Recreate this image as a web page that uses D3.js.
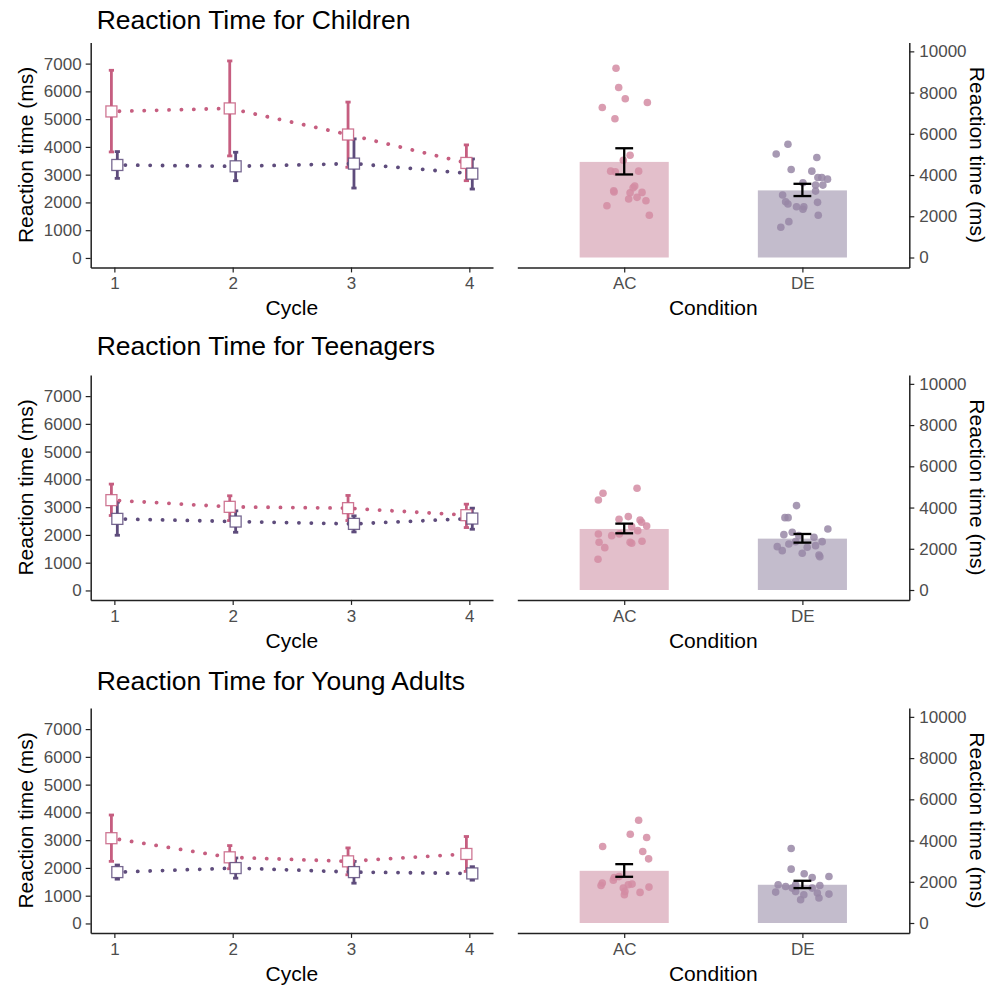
<!DOCTYPE html>
<html>
  <head>
    <meta charset="utf-8"/>
    <title>Reaction time by age group</title>
    <style type="text/css">
body {
  margin: 0;
  background: #fff;
}
svg {
  font-family: "Liberation Sans", Arial, sans-serif;
}
.axis path, .axis line {
  stroke: #222;
}
.axis path {
  stroke-width: 1.5;
}
.axis line {
  stroke-width: 1.2;
}
.axis text {
  fill: #4d4d4d;
  font-size: 17px;
}
.title {
  font-size: 26.5px;
  fill: #000;
}
.axtitle {
  font-size: 21px;
  fill: #000;
}
    </style>
  </head>
  <body>
    <div id="chart"></div>
    <script src="https://cdn.jsdelivr.net/npm/d3@7"></script>
    <script>
    // ---- data ----
    const cycles = [1, 2, 3, 4];
    const conditions = ["AC", "DE"];
    const titles = ["Reaction Time for Children", "Reaction Time for Teenagers", "Reaction Time for Young Adults"];
    const leftTicks = [0, 1000, 2000, 3000, 4000, 5000, 6000, 7000];
    const rightTicks = [0, 2000, 4000, 6000, 8000, 10000];

    // mean and error bar ends per cycle
    const childAcMean = [5277, 5386, 4446, 3422];
    const childAcLo = [3819, 3675, 3265, 2783];
    const childAcHi = [6759, 7096, 5614, 4072];
    const childDeMean = [3349, 3301, 3398, 3036];
    const childDeLo = [2867, 2783, 2518, 2482];
    const childDeHi = [3831, 3807, 4289, 3566];

    const teenAcMean = [3253, 3012, 2964, 2711];
    const teenAcLo = [2699, 2518, 2518, 2265];
    const teenAcHi = [3831, 3410, 3422, 3108];
    const teenDeMean = [2578, 2482, 2398, 2590];
    const teenDeLo = [1988, 2096, 2108, 2205];
    const teenDeHi = [3181, 2867, 2687, 2964];

    const youngAcMean = [3071, 2382, 2237, 2503];
    const youngAcLo = [2237, 1971, 1753, 1874];
    const youngAcHi = [3906, 2805, 2721, 3132];
    const youngDeMean = [1850, 1995, 1850, 1802];
    const youngDeLo = [1596, 1632, 1451, 1560];
    const youngDeHi = [2104, 2358, 2237, 2044];

    // overall means per condition [AC, DE]
    const childBarMean = [4638, 3256];
    const childBarLo = [4029, 2981];
    const childBarHi = [5300, 3575];
    const teenBarMean = [2961, 2492];
    const teenBarLo = [2751, 2298];
    const teenBarHi = [3220, 2718];
    const youngBarMean = [2532, 1855];
    const youngBarLo = [2242, 1694];
    const youngBarHi = [2855, 2048];

    // participants: [jitter (category units), reaction time]
    const childAcDots = [[-0.046, 9179], [-0.031, 8246], [0.006, 7700], [-0.123, 7280], [0.13, 7522],
      [-0.052, 6734], [0.033, 4961], [-0.005, 4720], [-0.076, 4188], [-0.05, 4155], [0.081, 4188],
      [0.059, 3464], [0.05, 3380], [-0.059, 3237], [-0.057, 3180], [0.033, 3140], [0.1, 3159],
      [0.025, 2836], [0.072, 2918], [0.122, 2754], [-0.097, 2512], [0.141, 2048]];
    const childDeDots = [[-0.081, 5493], [-0.147, 5024], [0.081, 4850], [-0.063, 4270], [0.053, 4188],
      [0.087, 3884], [0.109, 3884], [0.141, 3802], [0.003, 3623], [0.074, 3512], [0.115, 3512],
      [0.074, 3222], [-0.111, 3029], [-0.094, 2705], [-0.081, 2592], [-0.033, 2464], [0.008, 2464],
      [0.003, 2338], [0.085, 2676], [0.089, 2048], [-0.076, 1739], [-0.121, 1468]];
    const teenAcDots = [[0.072, 4935], [-0.119, 4693], [-0.145, 4369], [0.023, 3560], [-0.029, 3430],
      [0.089, 3398], [0.098, 3285], [0.126, 3107], [0.042, 3074], [0.076, 2880], [-0.145, 2718],
      [-0.07, 2638], [-0.027, 2718], [0.033, 2314], [0.042, 2265], [0.1, 2362], [-0.141, 2314],
      [-0.109, 2055], [-0.147, 1489]];
    const teenDeDots = [[-0.033, 4094], [-0.098, 3511], [-0.08, 3511], [0.143, 2961], [-0.104, 2686],
      [-0.057, 2799], [-0.02, 2638], [0.065, 2557], [0.111, 2346], [-0.076, 2233], [-0.141, 2104],
      [-0.113, 1909], [-0.001, 1780], [0.093, 1699], [0.098, 1618], [0.027, 2071], [0.074, 2152],
      [-0.038, 2346]];
    const youngAcDots = [[0.081, 4984], [0.034, 4306], [0.126, 4145], [-0.121, 3710], [0.104, 3468],
      [0.137, 3113], [-0.056, 2210], [-0.029, 2250], [-0.123, 1935], [-0.13, 1823], [-0.061, 2080],
      [0.023, 1855], [0.044, 1887], [-0.005, 1694], [0.139, 1742], [0.089, 1484], [0.001, 1371],
      [0.004, 1532]];
    const youngDeDots = [[-0.063, 3613], [-0.063, 2613], [0.149, 2258], [0.01, 2387], [0.055, 2210],
      [-0.136, 1855], [-0.094, 1774], [-0.038, 1855], [-0.038, 1532], [-0.15, 1500], [0.008, 1371],
      [-0.01, 1129], [0.098, 1823], [0.093, 1210], [0.149, 1403], [0.055, 1694], [-0.057, 1694],
      [0.084, 1452]];

    const lineData = [
      [[childAcMean, childAcLo, childAcHi], [childDeMean, childDeLo, childDeHi]],
      [[teenAcMean, teenAcLo, teenAcHi], [teenDeMean, teenDeLo, teenDeHi]],
      [[youngAcMean, youngAcLo, youngAcHi], [youngDeMean, youngDeLo, youngDeHi]]
    ];
    const barData = [
      [childBarMean, childBarLo, childBarHi, [childAcDots, childDeDots]],
      [teenBarMean, teenBarLo, teenBarHi, [teenAcDots, teenDeDots]],
      [youngBarMean, youngBarLo, youngBarHi, [youngAcDots, youngDeDots]]
    ];

    // ---- layout ----
    const width = 1003, height = 985;
    const zeroY = [258, 590.5, 923.5];
    const titleY = [29, 355, 690];
    const lineCol = ["#c65e80", "#5e4c7c"];
    const barCol = ["#e3bfcb", "#c3bccc"];
    const dotCol = ["#d48ca3", "#9887a6"];
    const dodge = [-0.025, 0.025];
    const fmt = d3.format("d");

    const svg = d3.select("#chart").append("svg")
        .attr("width", width)
        .attr("height", height);

    const xL = d3.scaleLinear().domain([0.8, 4.2]).range([90.7, 493]);
    const xR = d3.scalePoint().domain(conditions).range([517.3, 909.3]).padding(0.6);
    const step = xR.step();

    titles.forEach(function(title, r) {
      const yB = zeroY[r] + 9.4, yT = zeroY[r] - 215.5;
      const yL = d3.scaleLinear().domain([-340, 7760]).range([yB, yT]);
      const yR = d3.scaleLinear().domain([-480, 10430]).range([yB, yT]);
      const g = svg.append("g");

      g.append("text").attr("class", "title")
          .attr("x", 96.7).attr("y", titleY[r])
          .text(title);

      // left panel: cycles
      g.append("g").attr("class", "axis")
          .attr("transform", "translate(0," + yB + ")")
          .call(d3.axisBottom(xL).tickValues(cycles).tickFormat(fmt).tickSize(5).tickPadding(5).tickSizeOuter(0));
      g.append("g").attr("class", "axis")
          .attr("transform", "translate(" + xL.range()[0] + ",0)")
          .call(d3.axisLeft(yL).tickValues(leftTicks).tickFormat(fmt).tickSize(5).tickPadding(4).tickSizeOuter(0));

      g.append("text").attr("class", "axtitle")
          .attr("text-anchor", "middle")
          .attr("x", (xL.range()[0] + xL.range()[1]) / 2).attr("y", zeroY[r] + 57)
          .text("Cycle");
      g.append("text").attr("class", "axtitle")
          .attr("text-anchor", "middle")
          .attr("transform", "translate(33," + ((yB + yT) / 2) + ") rotate(-90)")
          .text("Reaction time (ms)");

      lineData[r].forEach(function(s, c) {
        const pts = cycles.map(function(cy, i) {
          return {x: cy + dodge[c], m: s[0][i], lo: s[1][i], hi: s[2][i]};
        });
        const eb = g.append("g")
            .attr("stroke", lineCol[c]).attr("stroke-width", 2.8).attr("fill", "none");
        pts.forEach(function(p) {
          eb.append("line")
              .attr("x1", xL(p.x)).attr("x2", xL(p.x))
              .attr("y1", yL(p.lo)).attr("y2", yL(p.hi));
          [p.lo, p.hi].forEach(function(v) {
            eb.append("line")
                .attr("x1", xL(p.x - 0.022)).attr("x2", xL(p.x + 0.022))
                .attr("y1", yL(v)).attr("y2", yL(v));
          });
        });
      });

      lineData[r].forEach(function(s, c) {
        const pts = cycles.map(function(cy, i) { return [cy + dodge[c], s[0][i]]; });
        g.append("path")
            .attr("d", d3.line().x(function(d) { return xL(d[0]); }).y(function(d) { return yL(d[1]); })(pts))
            .attr("fill", "none")
            .attr("stroke", lineCol[c])
            .attr("stroke-width", 3.8)
            .attr("stroke-linecap", "round")
            .attr("stroke-dasharray", "0.1 12.3")
            .attr("stroke-dashoffset", -8);
      });

      lineData[r].forEach(function(s, c) {
        cycles.forEach(function(cy, i) {
          g.append("rect")
              .attr("x", xL(cy + dodge[c]) - 5.5).attr("y", yL(s[0][i]) - 5.5)
              .attr("width", 11).attr("height", 11)
              .attr("fill", "#fff")
              .attr("stroke", lineCol[c]).attr("stroke-opacity", 0.85)
              .attr("stroke-width", 1.3);
        });
      });

      // right panel: conditions
      const b = barData[r];
      g.append("g").attr("class", "axis")
          .attr("transform", "translate(0," + yB + ")")
          .call(d3.axisBottom(xR).tickSize(5).tickPadding(5).tickSizeOuter(0));
      g.append("g").attr("class", "axis")
          .attr("transform", "translate(" + xR.range()[1] + ",0)")
          .call(d3.axisRight(yR).tickValues(rightTicks).tickFormat(fmt).tickSize(5).tickPadding(5).tickSizeOuter(0));

      g.append("text").attr("class", "axtitle")
          .attr("text-anchor", "middle")
          .attr("x", (xR.range()[0] + xR.range()[1]) / 2).attr("y", zeroY[r] + 57)
          .text("Condition");
      g.append("text").attr("class", "axtitle")
          .attr("text-anchor", "middle")
          .attr("transform", "translate(970," + ((yB + yT) / 2) + ") rotate(90)")
          .text("Reaction time (ms)");

      conditions.forEach(function(cond, c) {
        const cx = xR(cond);
        g.append("rect")
            .attr("x", cx - step * 0.25).attr("width", step * 0.5)
            .attr("y", yR(b[0][c])).attr("height", yR(0) - yR(b[0][c]))
            .attr("fill", barCol[c]);
        b[3][c].forEach(function(d) {
          g.append("circle")
              .attr("cx", cx + d[0] * step).attr("cy", yR(d[1]))
              .attr("r", 3.8)
              .attr("fill", dotCol[c]).attr("fill-opacity", 0.85);
        });
        const e = g.append("g").attr("stroke", "#000").attr("stroke-width", 2.3);
        e.append("line").attr("x1", cx).attr("x2", cx)
            .attr("y1", yR(b[1][c])).attr("y2", yR(b[2][c]));
        [b[1][c], b[2][c]].forEach(function(v) {
          e.append("line")
              .attr("x1", cx - step * 0.05).attr("x2", cx + step * 0.05)
              .attr("y1", yR(v)).attr("y2", yR(v));
        });
      });
    });
    </script>
  </body>
</html>
